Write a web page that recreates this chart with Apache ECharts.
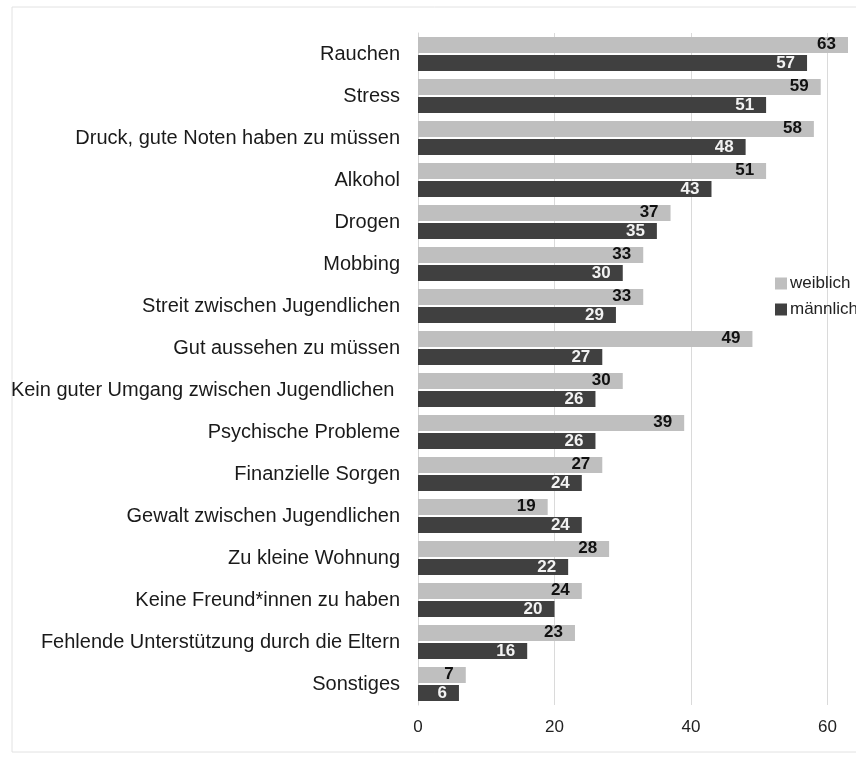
<!DOCTYPE html>
<html>
<head>
<meta charset="utf-8">
<script src="https://cdn.jsdelivr.net/npm/echarts@6/dist/echarts.min.js"></script>
<style>
  html, body { margin: 0; padding: 0; background: #fff; }
  #chart { width: 856px; height: 759px; }
</style>
</head>
<body>
<div id="chart"></div>
<script>
// Kategorien von oben nach unten
var categories = [
  'Rauchen',
  'Stress',
  'Druck, gute Noten haben zu müssen',
  'Alkohol',
  'Drogen',
  'Mobbing',
  'Streit zwischen Jugendlichen',
  'Gut aussehen zu müssen',
  'Kein guter Umgang zwischen Jugendlichen ',
  'Psychische Probleme',
  'Finanzielle Sorgen',
  'Gewalt zwischen Jugendlichen',
  'Zu kleine Wohnung',
  'Keine Freund*innen zu haben',
  'Fehlende Unterstützung durch die Eltern',
  'Sonstiges'
];
var weiblich = [63, 59, 58, 51, 37, 33, 33, 49, 30, 39, 27, 19, 28, 24, 23, 7];
var maennlich = [57, 51, 48, 43, 35, 30, 29, 27, 26, 26, 24, 24, 22, 20, 16, 6];
var xTicks = [0, 20, 40, 60];

var font = '"Liberation Sans", Arial, sans-serif';

var myChart = echarts.init(document.getElementById('chart'));
var opt = {
  animation: false,
  textStyle: { fontFamily: font },
  graphic: [
    {
      type: 'rect',
      shape: { x: 12, y: 7, width: 900, height: 745 },
      style: { fill: 'none', stroke: '#e2e2e2', lineWidth: 1 },
      silent: true
    }
  ],
  legend: {
    orient: 'vertical',
    left: 775,
    top: 275,
    padding: 0,
    itemWidth: 12,
    itemHeight: 12,
    itemGap: 9,
    icon: 'rect',
    textStyle: { fontSize: 17, color: '#222', fontFamily: font, padding: [0, 0, 0, -2] },
    data: ['weiblich', 'männlich']
  },
  grid: {
    left: 418,
    right: 8,
    top: 33,
    bottom: 54,
    containLabel: false
  },
  xAxis: {
    type: 'value',
    min: 0,
    max: 63,
    interval: 20,
    axisLine: { show: false },
    axisTick: { show: false },
    splitLine: {
      show: true,
      showMaxLine: false,
      lineStyle: { color: '#dadada', width: 1 }
    },
    axisLabel: {
      margin: 14,
      fontSize: 17,
      color: '#222',
      fontFamily: font,
      showMaxLabel: false,
      formatter: function (value) {
        return xTicks.indexOf(value) >= 0 ? String(value) : '';
      }
    }
  },
  yAxis: {
    type: 'category',
    inverse: true,
    data: categories,
    axisTick: { show: false },
    axisLine: { show: true, lineStyle: { color: '#d5d5d5', width: 1 } },
    axisLabel: {
      margin: 18,
      fontSize: 20,
      color: '#1a1a1a',
      fontFamily: font
    }
  },
  series: [
    {
      name: 'weiblich',
      type: 'bar',
      data: weiblich,
      barWidth: 16,
      barGap: '12%',
      itemStyle: { color: '#bfbfbf' },
      label: {
        show: true,
        position: 'insideRight',
        offset: [0, -1],
        distance: 12,
        color: '#111',
        fontWeight: 'bold',
        fontSize: 17,
        fontFamily: font
      }
    },
    {
      name: 'männlich',
      type: 'bar',
      data: maennlich,
      barWidth: 16,
      itemStyle: { color: '#404040' },
      label: {
        show: true,
        position: 'insideRight',
        distance: 12,
        color: '#f2f2f2',
        fontWeight: 'bold',
        fontSize: 17,
        fontFamily: font
      }
    }
  ]
};
myChart.setOption(opt);
</script>
</body>
</html>
